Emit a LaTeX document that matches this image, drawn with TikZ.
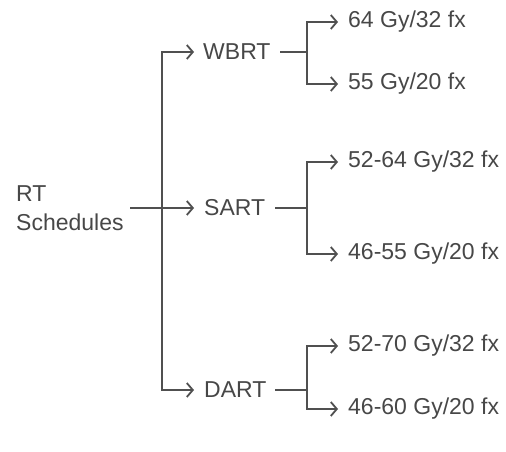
\documentclass[tikz,border=0pt]{standalone}
\usepackage{fontspec}
\setmainfont{Liberation Sans}
\usetikzlibrary{arrows.meta}
\definecolor{ln}{HTML}{505050}
\definecolor{tx}{HTML}{474747}
\begin{document}
\begin{tikzpicture}[x=1pt,y=-1pt,
  lbl/.style={text=tx,font=\fontsize{23}{29}\selectfont,inner sep=0pt,anchor=west},
  conn/.style={draw=ln,line width=2pt},
  arr/.style={conn,-{Straight Barb[length=6pt,width=14pt,line width=1.8pt]}}]
\useasboundingbox (0,0) rectangle (506,452);
\node[lbl,align=left] (root) at (16,208) {RT\\Schedules};
\coordinate (trunk) at (162,208);
\coordinate (rs) at (130,208);
\node[lbl] (wbrt) at (203,52) {WBRT};
\node[lbl] (sart) at (204,208) {SART};
\node[lbl] (dart) at (204,390) {DART};
\node[lbl] (a1) at (348,22) {64 Gy/32 fx};
\node[lbl] (a2) at (348,84) {55 Gy/20 fx};
\node[lbl] (b1) at (348,162) {52-64 Gy/32 fx};
\node[lbl] (b2) at (348,254) {46-55 Gy/20 fx};
\node[lbl] (c1) at (348,346) {52-70 Gy/32 fx};
\node[lbl] (c2) at (348,409) {46-60 Gy/20 fx};
\coordinate (sw) at (280,52);
\coordinate (ss) at (275,208);
\coordinate (sd) at (275,390);
\coordinate (bw) at (307,52);
\coordinate (bs) at (307,208);
\coordinate (bd) at (307,390);
% root to level one
\draw[conn] (rs) -- (trunk);
\draw[arr] (trunk) -- ([xshift=-10pt]sart.west);
\draw[arr] (trunk) |- ([xshift=-9pt]wbrt.west);
\draw[arr] (trunk) |- ([xshift=-10pt]dart.west);
% second level
\foreach \s/\b/\u/\d in {sw/bw/a1/a2, ss/bs/b1/b2, sd/bd/c1/c2}{
  \draw[conn] (\s) -- (\b);
  \draw[arr] (\b) |- ([xshift=-10pt]\u.west);
  \draw[arr] (\b) |- ([xshift=-10pt]\d.west);
}
\end{tikzpicture}
\end{document}
